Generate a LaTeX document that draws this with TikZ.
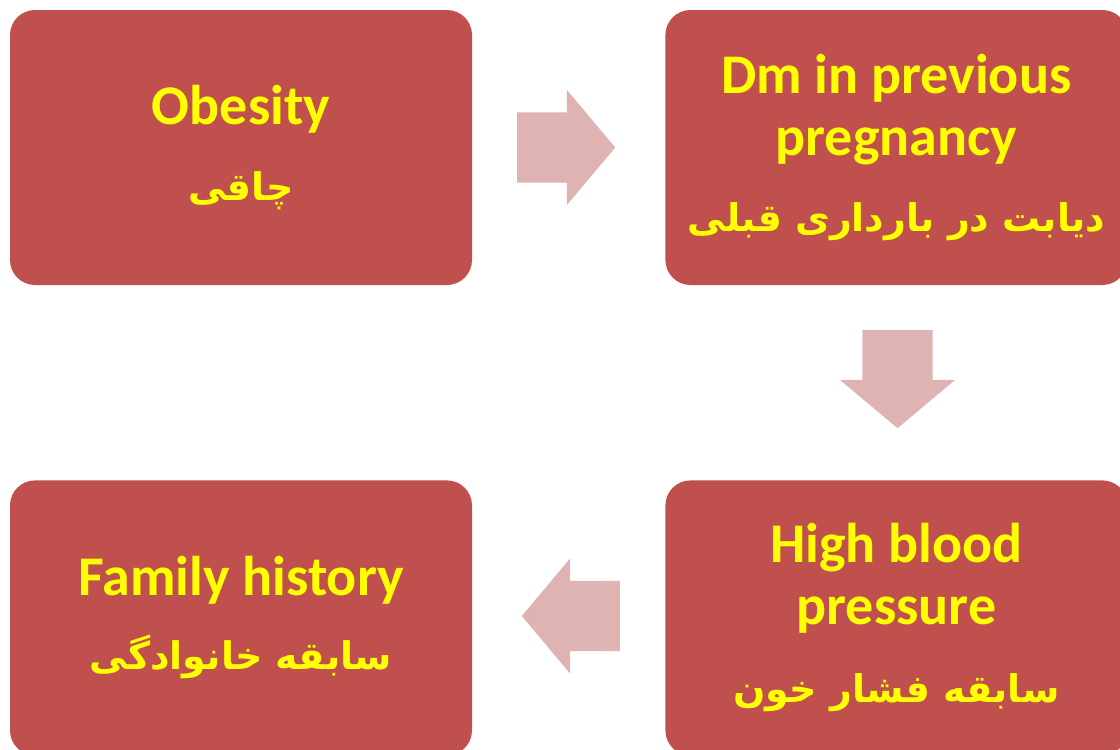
\documentclass[tikz,border=0pt]{standalone}
\usepackage{fontspec}
\usetikzlibrary{positioning,shapes.arrows}
\setmainfont{Carlito}
\newfontfamily\fatext[Script=Arabic]{DejaVu Sans}
\TeXXeTstate=1
\definecolor{boxred}{HTML}{C0504D}
\definecolor{arrowpink}{HTML}{DFB3B2}
\definecolor{textyellow}{HTML}{FFFF00}
\newcommand{\fa}[1]{{\fatext\bfseries\fontsize{38}{44}\selectfont\beginR #1\endR}}

\begin{document}
\begin{tikzpicture}[x=1pt,y=1pt]
  \tikzstyle{riskbox} = [rectangle, rounded corners=25pt, fill=boxred, draw=none,
    minimum width=462pt, minimum height=275pt, inner sep=0pt, align=center,
    text=textyellow, font=\bfseries\fontsize{56}{62}\selectfont]
  \tikzstyle{bigarrow} = [single arrow, fill=arrowpink, draw=none, inner xsep=0pt,
    inner ysep=35pt, minimum height=98pt, single arrow head extend=22.5pt,
    single arrow tip angle=100, anchor=tail]
  \tikzstyle{downarrow} = [bigarrow, inner xsep=35pt, inner ysep=0pt,
    shape border rotate=270]
  \clip (0,0) rectangle (1120,-750);
  % Define boxes
  \node[riskbox] (obesity) at (241,-147.5) {Obesity\\[14pt]\fa{چاقی}};
  \node[riskbox, right=193pt of obesity] (dm)
    {Dm in previous\\pregnancy\\[14pt]\fa{دیابت در بارداری قبلی}};
  \node[riskbox, below=195pt of dm] (hbp)
    {High blood\\pressure\\[16pt]\fa{سابقه فشار خون}};
  \node[riskbox, left=193pt of hbp] (family)
    {Family history\\[12pt]\fa{سابقه خانوادگی}};

  % Arrows between boxes
  \node[bigarrow] (a1) at (517,-147.5) {};
  \node[downarrow] (a2) at (897.5,-330) {};
  \node[bigarrow, shape border rotate=180] (a3) at (620,-616) {};
\end{tikzpicture}
\end{document}
